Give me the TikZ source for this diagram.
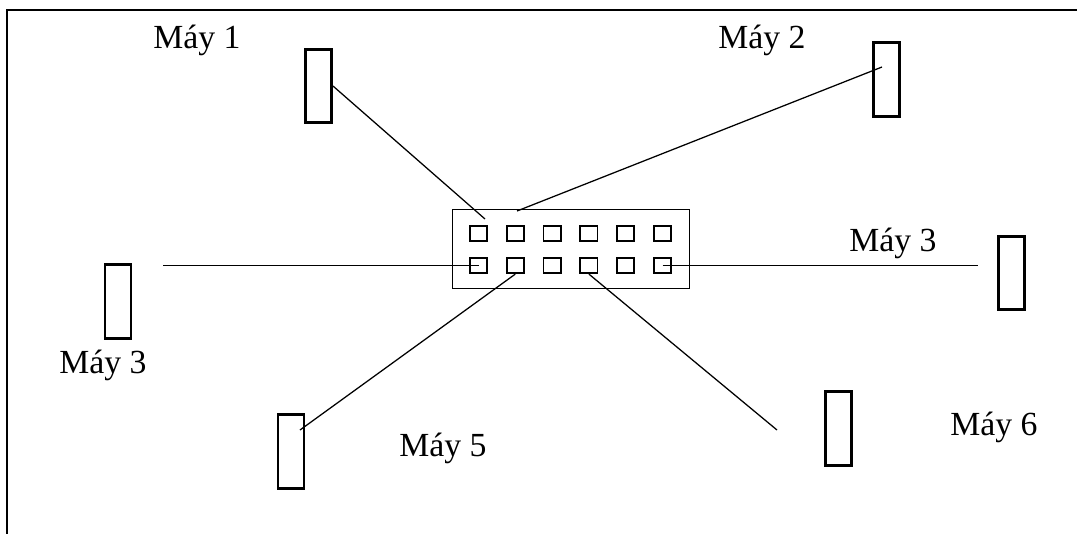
\documentclass[tikz,border=0pt]{standalone}
\usepackage{fontspec}
\setmainfont{Liberation Serif}
\tikzstyle{machine}=[draw,rectangle,line width=2.1pt,minimum width=0.65cm,minimum height=1.83cm,inner sep=0pt]
\tikzstyle{port}=[draw,rectangle,line width=1.4pt,minimum width=0.43cm,minimum height=0.38cm,inner sep=0pt]
\tikzstyle{hub}=[draw,rectangle,line width=1pt,minimum width=5.92cm,minimum height=1.97cm,inner sep=0pt]
\tikzstyle{label}=[anchor=base,inner sep=0pt,font=\fontsize{24}{28}\selectfont]

\begin{document}
\begin{tikzpicture}[x=0.025cm,y=-0.025cm]
    \useasboundingbox (0,0) rectangle (1077,533);
    \draw[line width=1.4pt] (7,600) -- (7,10) -- (1100,10);

    \node[hub] (hub) at (571,249) {};
    \foreach \i in {1,...,6}
    {
        \node[port] (t\i) at ({478.5+36.8*(\i-1)},233.5) {};
        \node[port] (b\i) at ({478.5+36.8*(\i-1)},265.5) {};
    }

    \node[machine] (may1) at (318.5,86)    {};
    \node[machine] (may2) at (886.5,79.5)  {};
    \node[machine] (may3) at (118,301.5)   {};
    \node[machine] (may4) at (1011.5,273)  {};
    \node[machine] (may5) at (291,451.5)   {};
    \node[machine] (may6) at (838.5,428.5) {};

    \node[label] (l1) at (197,48)  {Máy 1};
    \node[label] (l2) at (762,48)  {Máy 2};
    \node[label] (l3) at (103,373) {Máy 3};
    \node[label] (l4) at (893,251) {Máy 3};
    \node[label] (l5) at (443,456) {Máy 5};
    \node[label] (l6) at (994,435) {Máy 6};

    \coordinate (c1) at (485,219);
    \coordinate (c2) at (882,67);
    \coordinate (c3) at (517,211);
    \coordinate (c4) at (163,265.5);
    \coordinate (c5) at (978,265.5);
    \coordinate (c6) at (300,430);
    \coordinate (c7) at (777,430);

    \foreach \from/\to in {may1.east/c1,c2/c3,c4/b1.center,b6.center/c5,b2.south/c6,b4.south/c7}
    \draw[line width=0.9pt] (\from) -- (\to);
\end{tikzpicture}
\end{document}
